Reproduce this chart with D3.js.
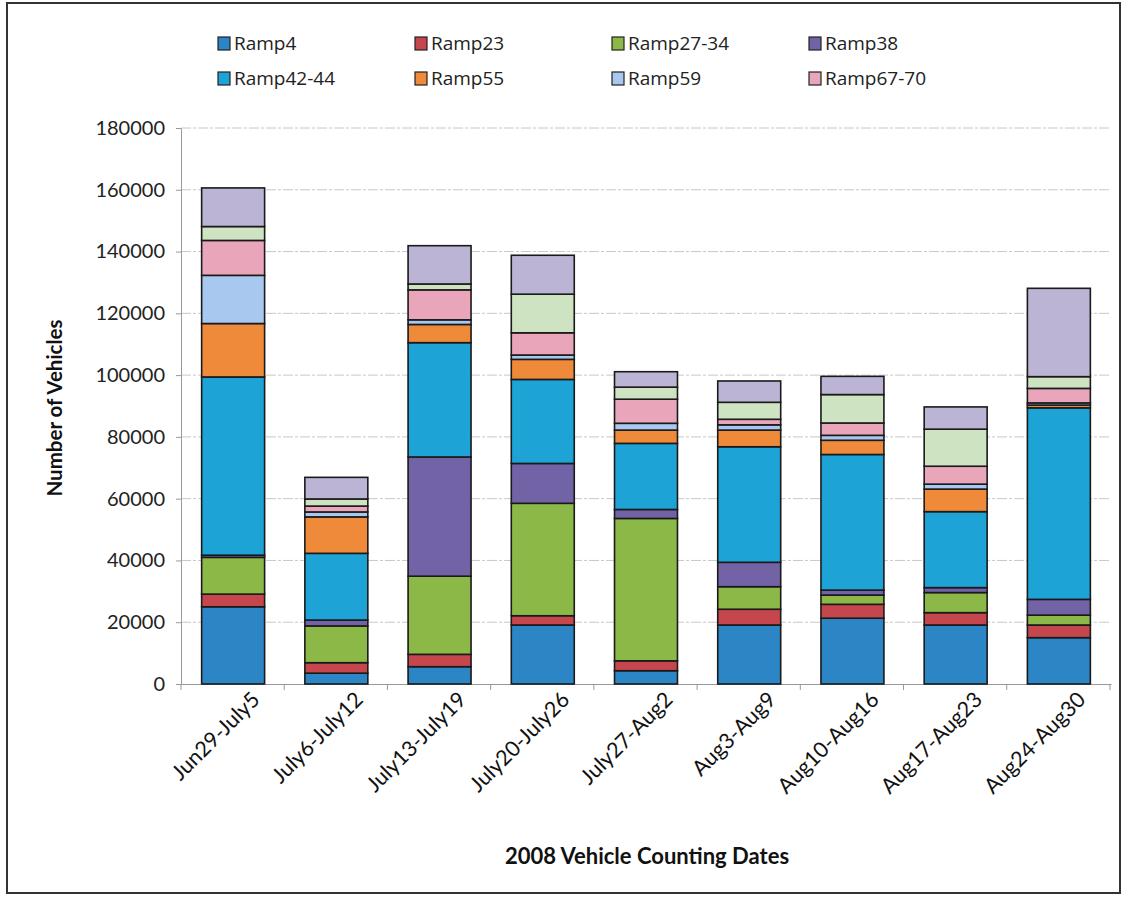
<!DOCTYPE html>
<html>
<head>
<meta charset="utf-8">
<script src="https://cdn.jsdelivr.net/npm/d3@7"></script>
<style>
  html, body { margin: 0; padding: 0; background: #fff; }
  svg { display: block; }
</style>
</head>
<body>
<svg id="chart" width="1129" height="898"></svg>
<script>
// Weekly vehicle counts per ramp, summer 2008
const categories = ["Jun29-July5", "July6-July12", "July13-July19", "July20-July26",
  "July27-Aug2", "Aug3-Aug9", "Aug10-Aug16", "Aug17-Aug23", "Aug24-Aug30"];

const ramp4    = [25000, 3500, 5600, 19100, 4300, 19100, 21300, 19100, 15000];
const ramp23   = [4100, 3400, 4000, 3000, 3200, 5100, 4500, 4000, 4100];
const ramp2734 = [11900, 11900, 25300, 36400, 46100, 7300, 3000, 6500, 3200];
const ramp38   = [700, 1900, 38600, 12900, 2900, 7900, 1600, 1600, 5100];
const ramp4244 = [57700, 21600, 37000, 27200, 21400, 37400, 43900, 24600, 62000];
const ramp55   = [17300, 11800, 5900, 6500, 4300, 5400, 4600, 7300, 900];
const ramp59   = [15600, 1600, 1500, 1400, 2200, 1700, 1600, 1600, 700];
const ramp6770 = [11300, 1900, 9700, 7200, 7800, 1800, 4000, 5800, 4700];
// two further ramps stacked on top; they have no legend entry
const rampX1   = [4500, 2300, 1900, 12500, 3900, 5500, 9200, 12000, 3800];
const rampX2   = [12500, 7000, 12400, 12600, 5000, 6900, 5900, 7200, 28600];

const yTicks = [0, 20000, 40000, 60000, 80000, 100000, 120000, 140000, 160000, 180000];

const series = [
  { key: "Ramp4",     values: ramp4,    color: "#2C86C5", legend: true },
  { key: "Ramp23",    values: ramp23,   color: "#C6464E", legend: true },
  { key: "Ramp27-34", values: ramp2734, color: "#8CB847", legend: true },
  { key: "Ramp38",    values: ramp38,   color: "#7262A6", legend: true },
  { key: "Ramp42-44", values: ramp4244, color: "#1EA3D6", legend: true },
  { key: "Ramp55",    values: ramp55,   color: "#EE8A3A", legend: true },
  { key: "Ramp59",    values: ramp59,   color: "#A8C8F0", legend: true },
  { key: "Ramp67-70", values: ramp6770, color: "#E9A5B9", legend: true },
  { key: "X1",        values: rampX1,   color: "#CDE3C1", legend: false },
  { key: "X2",        values: rampX2,   color: "#BCB4D5", legend: false }
];

const table = categories.map((c, i) => {
  const row = { cat: c };
  series.forEach(s => { row[s.key] = s.values[i]; });
  return row;
});

const svg = d3.select("#chart");
const font = "Lato, 'Open Sans', 'Liberation Sans', sans-serif";

// outer frame
svg.append("rect")
  .attr("x", 7).attr("y", 3).attr("width", 1113).attr("height", 890)
  .attr("fill", "none").attr("stroke", "#333").attr("stroke-width", 2);

const plot = { left: 181, right: 1111, top: 128, bottom: 684 };

const x = d3.scaleBand()
  .domain(categories)
  .range([plot.left, plot.right])
  .paddingInner(0.39).paddingOuter(0.2);

const y = d3.scaleLinear()
  .domain([0, 180000])
  .range([plot.bottom, plot.top]);

// gridlines
svg.append("g")
  .selectAll("line")
  .data(yTicks.filter(t => t > 0))
  .join("line")
  .attr("x1", plot.left).attr("x2", plot.right)
  .attr("y1", d => y(d)).attr("y2", d => y(d))
  .attr("stroke", "#c8c8c8").attr("stroke-width", 1)
  .attr("stroke-dasharray", "10,2,3,2");

// y axis
const yAxis = svg.append("g")
  .attr("transform", `translate(${plot.left},0)`)
  .call(d3.axisLeft(y).tickValues(yTicks).tickSize(5).tickPadding(11).tickFormat(d3.format("d")));
yAxis.select(".domain").attr("stroke", "#999");
yAxis.selectAll(".tick line").attr("stroke", "#999");
yAxis.selectAll("text").attr("font-family", font).attr("font-size", 20).attr("fill", "#222");

// x axis
const xAxis = svg.append("g")
  .attr("transform", `translate(0,${plot.bottom})`)
  .call(d3.axisBottom(x).tickSize(0).tickFormat(""));
xAxis.select(".domain").attr("stroke", "#999");

// category separator ticks
const step = x.step();
svg.append("g")
  .selectAll("line")
  .data(d3.range(categories.length + 1))
  .join("line")
  .attr("x1", i => plot.left + i * step).attr("x2", i => plot.left + i * step)
  .attr("y1", plot.bottom).attr("y2", plot.bottom + 6)
  .attr("stroke", "#999");

// rotated category labels
svg.append("g")
  .selectAll("text")
  .data(categories)
  .join("text")
  .attr("transform", d => `translate(${x(d) + x.bandwidth() / 2 + 28},${plot.bottom + 17}) rotate(-45)`)
  .attr("text-anchor", "end")
  .attr("font-family", font).attr("font-size", 21.5).attr("fill", "#111")
  .text(d => d);

// stacked bars
const stack = d3.stack().keys(series.map(s => s.key))(table);
svg.append("g")
  .selectAll("g")
  .data(stack)
  .join("g")
  .attr("fill", (d, i) => series[i].color)
  .selectAll("rect")
  .data(d => d)
  .join("rect")
  .attr("x", d => x(d.data.cat))
  .attr("width", x.bandwidth())
  .attr("y", d => y(d[1]))
  .attr("height", d => y(d[0]) - y(d[1]))
  .attr("stroke", "#1a1a1a").attr("stroke-width", 1.6);

// axis titles
svg.append("text")
  .attr("transform", `translate(62,${(plot.top + plot.bottom) / 2 + 2}) rotate(-90)`)
  .attr("text-anchor", "middle")
  .attr("font-family", font).attr("font-size", 20.5).attr("font-weight", "bold").attr("fill", "#111")
  .text("Number of Vehicles");

svg.append("text")
  .attr("x", 647).attr("y", 864)
  .attr("text-anchor", "middle")
  .attr("font-family", font).attr("font-size", 22).attr("font-weight", "bold").attr("fill", "#111")
  .text("2008 Vehicle Counting Dates");

// legend: two rows of four
const legendItems = series.filter(s => s.legend);
const lg = svg.append("g")
  .selectAll("g")
  .data(legendItems)
  .join("g")
  .attr("transform", (d, i) => `translate(${218 + (i % 4) * 197},${i < 4 ? 37 : 72})`);
lg.append("rect")
  .attr("width", 12).attr("height", 13)
  .attr("fill", d => d.color).attr("stroke", "#222").attr("stroke-width", 1.2);
lg.append("text")
  .attr("x", 16).attr("y", 13)
  .attr("font-family", "'Open Sans', 'Noto Sans', sans-serif").attr("font-size", 19).attr("fill", "#222")
  .text(d => d.key);
</script>
</body>
</html>
